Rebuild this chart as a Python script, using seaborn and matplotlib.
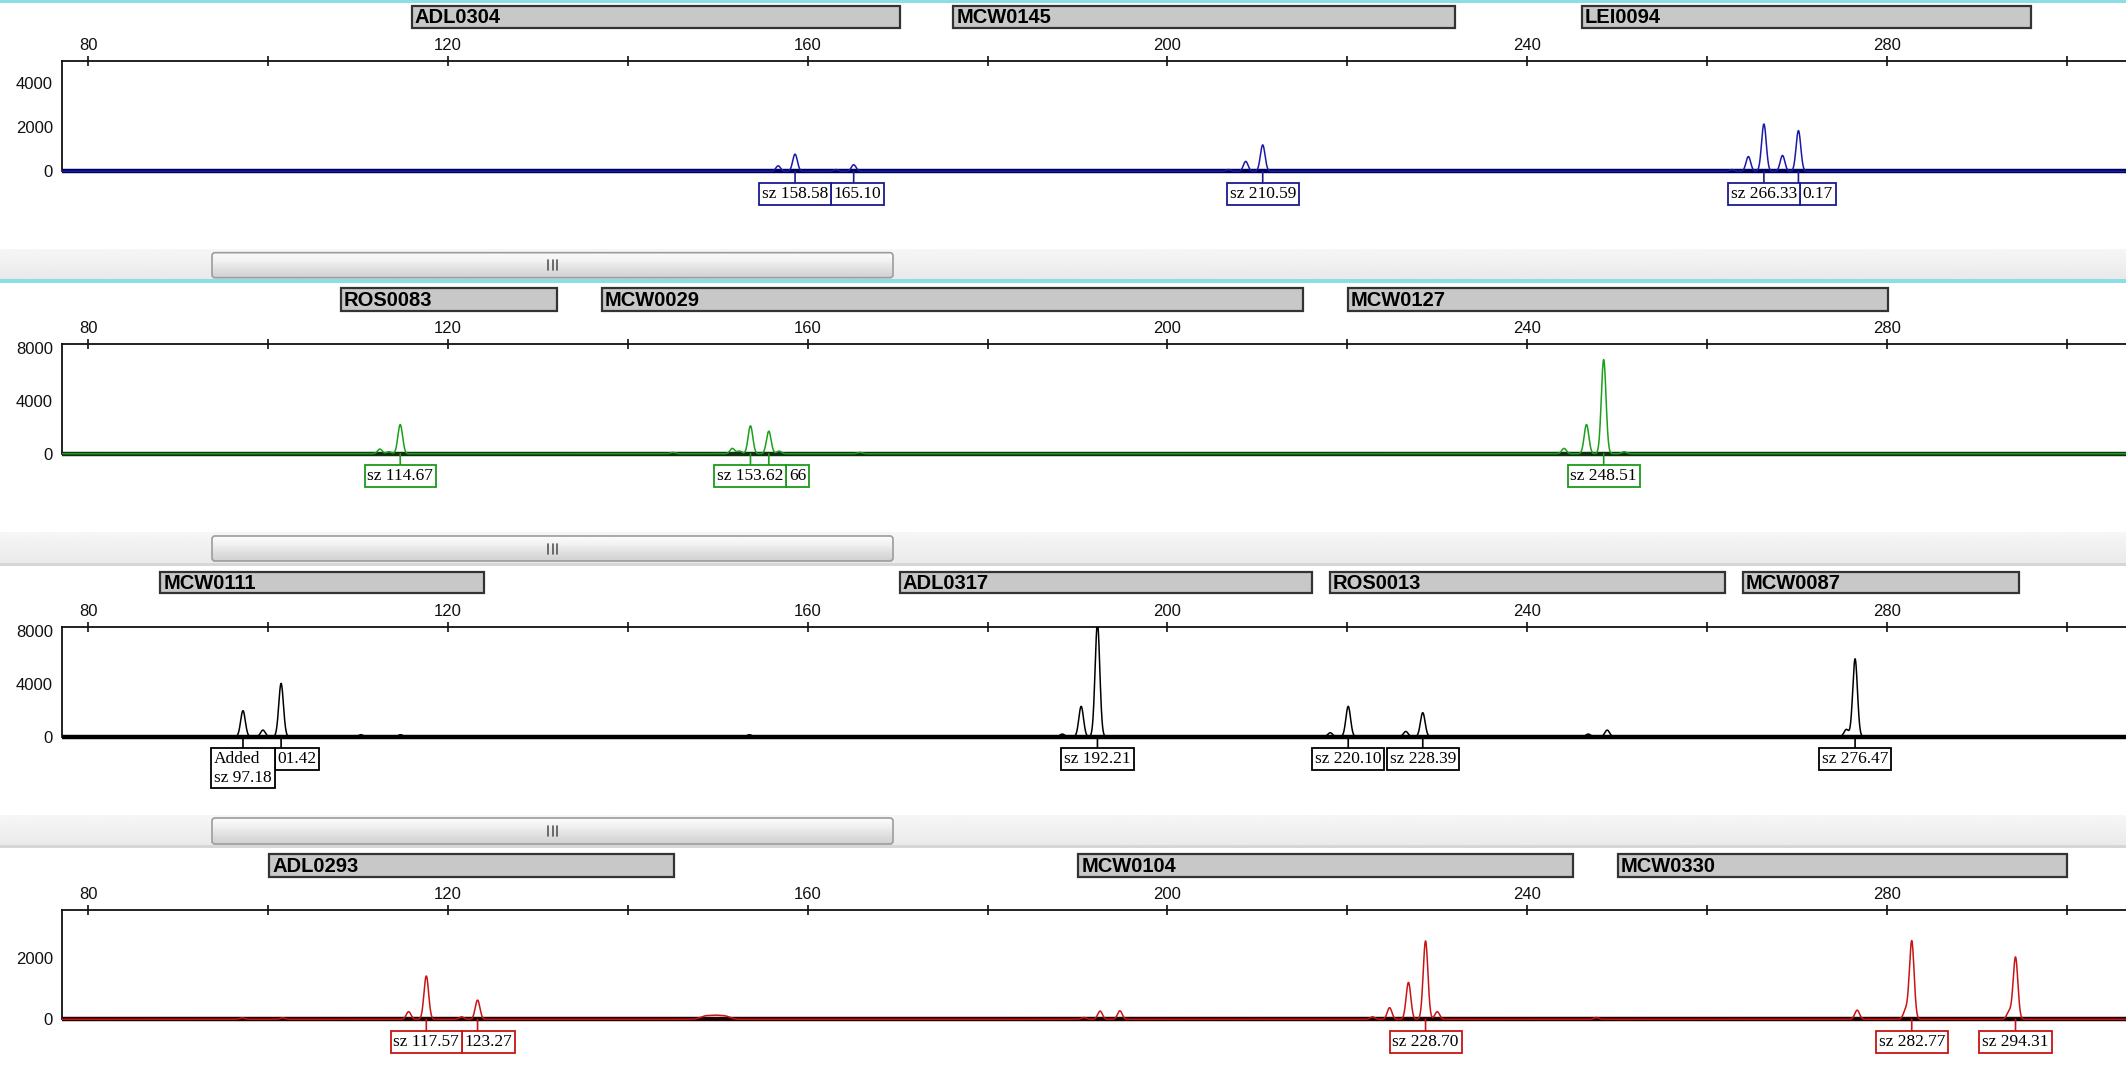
import numpy as np
import pandas as pd
import matplotlib
matplotlib.use("Agg")
import matplotlib.pyplot as plt
import seaborn as sns
from matplotlib.patches import Rectangle, FancyBboxPatch
from matplotlib.ticker import FixedLocator, FixedFormatter
from matplotlib.text import OffsetFrom

# ---------------- data ----------------
# panel 1 (blue dye)
p1_markers = ["ADL0304", "MCW0145", "LEI0094"]
p1_marker_start = [116.0, 176.2, 246.1]
p1_marker_end = [170.3, 232.0, 296.0]
p1_peak_pos = [156.7, 158.58, 163.1, 165.10, 206.8, 208.7, 210.59,
               262.8, 264.6, 266.33, 268.4, 270.17]
p1_peak_height = [250, 780, 80, 300, 80, 450, 1200,
                  80, 670, 2150, 720, 1850]
p1_called = [158.58, 165.10, 210.59, 266.33, 270.17]
p1_labels = ["sz 158.58", "165.10", "sz 210.59", "sz 266.33", "0.17"]
p1_joined = [False, True, False, False, True]

# panel 2 (green dye)
p2_markers = ["ROS0083", "MCW0029", "MCW0127"]
p2_marker_start = [108.1, 137.1, 220.1]
p2_marker_end = [132.1, 215.1, 280.1]
p2_peak_pos = [112.4, 113.4, 114.67, 145.0, 151.6, 152.4, 153.62, 155.66,
               156.8, 165.8, 244.1, 246.6, 248.51, 250.8]
p2_peak_height = [350, 150, 2200, 100, 400, 200, 2100, 1700,
                  200, 100, 400, 2200, 7100, 150]
p2_called = [114.67, 153.62, 155.66, 248.51]
p2_labels = ["sz 114.67", "sz 153.62", "66", "sz 248.51"]
p2_joined = [False, False, True, False]

# panel 3 (black dye)
p3_markers = ["MCW0111", "ADL0317", "ROS0013", "MCW0087"]
p3_marker_start = [88.0, 170.2, 218.1, 264.0]
p3_marker_end = [124.0, 216.1, 262.0, 294.7]
p3_peak_pos = [97.18, 99.4, 101.42, 110.3, 114.7, 153.5, 188.3, 190.4,
               192.21, 218.1, 220.10, 226.5, 228.39, 246.8, 248.9,
               275.5, 276.47]
p3_peak_height = [1970, 500, 4040, 150, 150, 150, 200, 2300,
                  8600, 300, 2300, 400, 1820, 200, 500,
                  550, 5900]
p3_called = [97.18, 101.42, 192.21, 220.10, 228.39, 276.47]
p3_labels = ["Added\nsz 97.18", "01.42", "sz 192.21", "sz 220.10",
             "sz 228.39", "sz 276.47"]
p3_joined = [False, True, False, False, False, False]

# panel 4 (red dye)
p4_markers = ["ADL0293", "MCW0104", "MCW0330"]
p4_marker_start = [100.1, 190.1, 250.1]
p4_marker_end = [145.1, 245.1, 300.0]
p4_peak_pos = [97.1, 101.6, 115.6, 117.57, 121.5, 123.27, 148.6, 149.7,
               150.8, 190.7, 192.5, 194.7, 222.8, 224.7, 226.8, 228.70,
               230.0, 247.7, 276.7, 282.1, 282.77, 293.6, 294.31]
p4_peak_height = [50, 50, 250, 1420, 80, 630, 100, 110,
                  100, 60, 270, 280, 80, 380, 1210, 2570,
                  250, 60, 300, 300, 2570, 250, 2040]
p4_peak_width = [0.26, 0.26, 0.26, 0.26, 0.26, 0.26, 0.55, 0.55,
                 0.55, 0.26, 0.26, 0.26, 0.26, 0.26, 0.26, 0.26,
                 0.26, 0.26, 0.26, 0.26, 0.26, 0.26, 0.26]
p4_called = [117.57, 123.27, 228.70, 282.77, 294.31]
p4_labels = ["sz 117.57", "123.27", "sz 228.70", "sz 282.77", "sz 294.31"]
p4_joined = [False, True, False, False, False]

x_ticks = [80, 100, 120, 140, 160, 180, 200, 220, 240, 260, 280, 300]
x_tick_labels = ["80", "", "120", "", "160", "", "200", "", "240", "", "280", ""]

# ---------------- styling / layout ----------------
W, H = 2126, 1078
sns.set_style("white")
plt.rcParams["font.family"] = ["Liberation Sans Narrow", "Liberation Sans", "DejaVu Sans"]

fig = plt.figure(figsize=(W / 100, H / 100), dpi=100)
fig.patch.set_facecolor("white")


def frac(x0, y0, x1, y1):
    return [x0 / W, 1 - y1 / H, (x1 - x0) / W, (y1 - y0) / H]


# background decorations (separators and scroll bars), pixel coordinates
bg = fig.add_axes([0, 0, 1, 1], zorder=0)
bg.axis("off")
for (y0, y1) in [(0, 3), (279, 283)]:
    bg.add_patch(Rectangle((0, y0), W, y1 - y0, fc="#8adfe7", ec="none", zorder=6))
for (b0, b1, t0, t1, cyan) in [(249, 280, 252.7, 277.7, True),
                               (532, 566, 536, 561, False),
                               (815, 848, 818, 844, False)]:
    grad = np.linspace(0.965, 0.915, 20).reshape(-1, 1)
    bg.imshow(grad, cmap="gray", vmin=0, vmax=1, aspect="auto",
              extent=(0, W, b1, b0), zorder=1)
    if not cyan:
        bg.add_patch(Rectangle((0, b1 - 3), W, 3, fc="#d6d6d6", ec="none", zorder=2))
    thumb = FancyBboxPatch((212, t0), 681, t1 - t0,
                           boxstyle="round,pad=0,rounding_size=3",
                           fc="none", ec="#9c9c9c", lw=1.2, zorder=4)
    bg.add_patch(thumb)
    tg = np.concatenate([np.linspace(0.985, 0.94, 8),
                         np.linspace(0.92, 0.82, 12)]).reshape(-1, 1)
    im = bg.imshow(tg, cmap="gray", vmin=0, vmax=1, aspect="auto",
                   extent=(212, 893, t1, t0), zorder=3)
    im.set_clip_path(thumb)
    cy = (t0 + t1) / 2
    for gx in (548, 552.5, 557):
        bg.plot([gx, gx], [cy - 5, cy + 5], color="#555555", lw=1.2, zorder=5)
bg.set_xlim(0, W)
bg.set_ylim(H, 0)

panels = [
    dict(markers=p1_markers, ms=p1_marker_start, me=p1_marker_end,
         pos=p1_peak_pos, hgt=p1_peak_height, wid=None,
         called=p1_called, labels=p1_labels, joined=p1_joined,
         color="#1a1aa8", base="#00005a", box="#1a1a90",
         mk=(6, 28), top=61, zero=171.3, per=22.0, bottom=248,
         yt=[0, 2000, 4000], ymin=[1000, 3000]),
    dict(markers=p2_markers, ms=p2_marker_start, me=p2_marker_end,
         pos=p2_peak_pos, hgt=p2_peak_height, wid=None,
         called=p2_called, labels=p2_labels, joined=p2_joined,
         color="#1aa01a", base="#103010", box="#1a9a1a",
         mk=(288, 311), top=344, zero=453.7, per=13.25, bottom=532,
         yt=[0, 4000, 8000], ymin=[2000, 6000]),
    dict(markers=p3_markers, ms=p3_marker_start, me=p3_marker_end,
         pos=p3_peak_pos, hgt=p3_peak_height, wid=None,
         called=p3_called, labels=p3_labels, joined=p3_joined,
         color="#000000", base="#000000", box="#000000",
         mk=(571.7, 593.3), top=627, zero=736.7, per=13.2, bottom=815,
         yt=[0, 4000, 8000], ymin=[2000, 6000]),
    dict(markers=p4_markers, ms=p4_marker_start, me=p4_marker_end,
         pos=p4_peak_pos, hgt=p4_peak_height, wid=p4_peak_width,
         called=p4_called, labels=p4_labels, joined=p4_joined,
         color="#c81414", base="#200000", box="#c81414",
         mk=(854, 877), top=910, zero=1019.3, per=30.5, bottom=1078,
         yt=[0, 2000], ymin=[1000, 3000]),
]

X_LEFT_PX = 61.7
xlim = (77.02, 306.6)
grid = np.arange(xlim[0], xlim[1], 0.02)
LABEL_FONT = ["Liberation Serif", "DejaVu Serif"]
BOX_PAD = 0.16
LABEL_SIZE = 12.5
GAP_PT = 8.4                     # baseline -> box top
PAD_PT = BOX_PAD * LABEL_SIZE

for P in panels:
    ax = fig.add_axes(frac(X_LEFT_PX, P["top"], W, P["bottom"]), zorder=5)
    ax.patch.set_alpha(0)
    ytop = (P["zero"] - P["top"]) / P["per"] * 1000
    ybot = -(P["bottom"] - P["zero"]) / P["per"] * 1000

    widths = P["wid"] if P["wid"] is not None else [0.26] * len(P["pos"])
    trace = np.zeros_like(grid)
    for p, h, s in zip(P["pos"], P["hgt"], widths):
        trace += h * np.exp(-0.5 * ((grid - p) / s) ** 2)
    df = pd.DataFrame({"size": grid, "rfu": trace})

    ax.axhline(0, color=P["base"], lw=3.2, zorder=2)
    sns.lineplot(data=df, x="size", y="rfu", ax=ax, color=P["color"],
                 lw=1.1, estimator=None, sort=False, zorder=3)
    ax.set_xlim(*xlim)
    ax.set_ylim(ybot, ytop)
    ax.set_xlabel("")
    ax.set_ylabel("")

    for s in ("right", "bottom"):
        ax.spines[s].set_visible(False)
    for s in ("top", "left"):
        ax.spines[s].set_linewidth(1.3)
        ax.spines[s].set_color("#111111")
    ax.spines["left"].set_bounds(0, ytop)

    ax.xaxis.tick_top()
    ax.xaxis.set_major_locator(FixedLocator(x_ticks))
    ax.xaxis.set_major_formatter(FixedFormatter(x_tick_labels))
    ax.tick_params(axis="x", direction="inout", length=7, width=1.2,
                   pad=2.5, labelsize=12, colors="#111111")
    ax.yaxis.set_major_locator(FixedLocator(P["yt"]))
    ax.yaxis.set_major_formatter(FixedFormatter([str(v) for v in P["yt"]]))
    ax.yaxis.set_minor_locator(FixedLocator(P["ymin"]))
    ax.tick_params(axis="y", which="major", direction="inout", length=6.5,
                   width=1.2, pad=3.0, labelsize=12, colors="#111111")
    ax.tick_params(axis="y", which="minor", direction="inout", length=6.5,
                   width=1.2, colors="#111111")
    ax.grid(False)

    # called-peak connectors and size labels
    prev = None
    for c, txt, joined in zip(P["called"], P["labels"], P["joined"]):
        ax.annotate("", xy=(c, 0), xytext=(0, -GAP_PT), textcoords="offset points",
                    arrowprops=dict(arrowstyle="-", color=P["box"], lw=1.2,
                                    shrinkA=0, shrinkB=0),
                    zorder=4, annotation_clip=False)
        box = dict(boxstyle=f"square,pad={BOX_PAD}", fc="white", ec=P["box"], lw=1.3)
        if joined and prev is not None:
            ann = ax.annotate(txt, xy=(c, 0), xytext=(2 * PAD_PT, 0),
                              textcoords=OffsetFrom(prev, (1, 1)),
                              ha="left", va="top", fontsize=LABEL_SIZE,
                              family=LABEL_FONT, color="black", bbox=box,
                              zorder=10, annotation_clip=False)
        else:
            ann = ax.annotate(txt, xy=(c, 0), xytext=(0, -(GAP_PT + PAD_PT)),
                              textcoords="offset points", ha="center", va="top",
                              multialignment="left", fontsize=LABEL_SIZE,
                              family=LABEL_FONT, color="black", bbox=box,
                              zorder=11, annotation_clip=False)
        prev = ann

    # marker (locus) bins
    mk = fig.add_axes(frac(X_LEFT_PX, P["mk"][0], W, P["mk"][1]), zorder=6)
    mk.set_xlim(*xlim)
    mk.set_ylim(0, 1)
    mk.axis("off")
    for name, s0, s1 in zip(P["markers"], P["ms"], P["me"]):
        mk.add_patch(Rectangle((s0, 0), s1 - s0, 1, fc="#c8c8c8", ec="#333333",
                               lw=1.6, clip_on=False))
        mk.annotate(name, xy=(s0, 0.5), xytext=(2, -0.5), textcoords="offset points",
                    ha="left", va="center", fontsize=14.5, fontweight="bold",
                    family=["Liberation Sans", "DejaVu Sans"], color="black")

fig.savefig("out.png", dpi=100, facecolor="white")
